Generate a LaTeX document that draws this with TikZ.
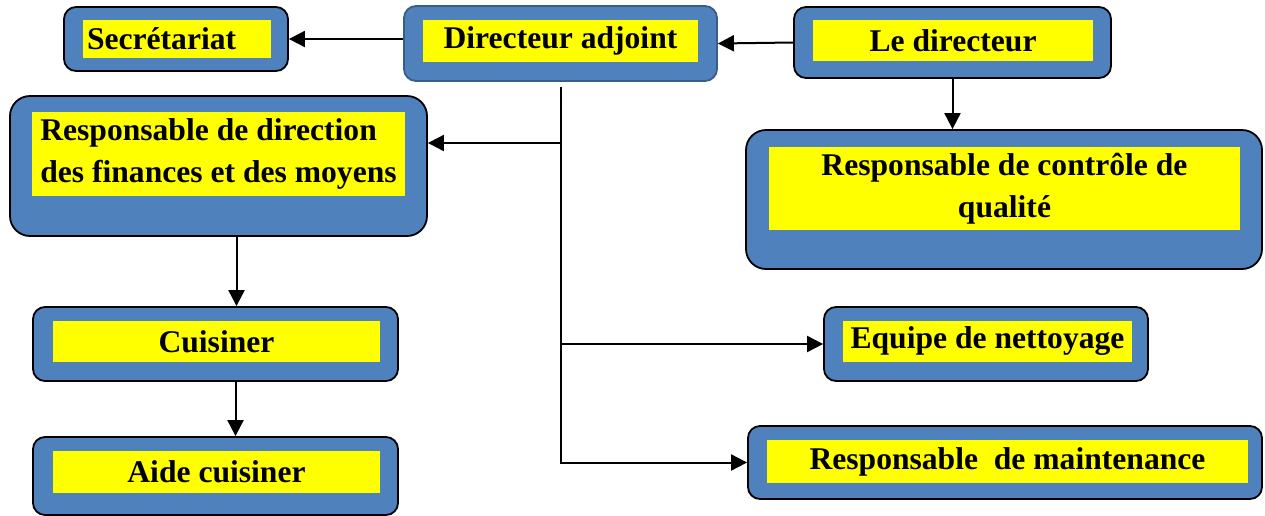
\documentclass[tikz,border=0pt]{standalone}
\usepackage{fontspec}
\setmainfont{Liberation Serif}
\usetikzlibrary{arrows.meta}
\definecolor{boxblue}{HTML}{4F81BD}
\definecolor{adjborder}{HTML}{385D8A}
\definecolor{labelyellow}{RGB}{255,255,0}

\begin{document}
\begin{tikzpicture}[x = 1pt, y = -1pt]
\tikzstyle{BoxStyle}=[shape = rectangle,
                      rounded corners = 6pt,
                      fill = boxblue,
                      draw = black,
                      line width = 0.9pt,
                      inner sep = 0pt]
\tikzstyle{LabelStyle}=[shape = rectangle,
                        fill = labelyellow,
                        inner xsep = 2pt,
                        inner ysep = 0pt,
                        align = center,
                        font = \fontsize{15.8}{21}\selectfont\bfseries]
\tikzstyle{LinkStyle}=[draw, line width = 1pt, -{Triangle[length = 8pt, width = 8pt]}]

\useasboundingbox (0, 0) rectangle (632.5, 257.5);

\node[BoxStyle, minimum width = 112pt, minimum height = 32pt] (sec) at (88, 19.5) {};
\node[LabelStyle, text width = 90pt, minimum height = 19pt, align = left] (secL) at (88.5, 19.5) {Secrétariat};

\node[BoxStyle, draw = adjborder, minimum width = 156.5pt, minimum height = 37.5pt] (adj) at (280.25, 21.75) {};
\node[LabelStyle, minimum width = 137.5pt, minimum height = 21pt] (adjL) at (280.25, 20.5) {Directeur adjoint};

\node[BoxStyle, minimum width = 158.5pt, minimum height = 35.5pt] (dir) at (476.25, 21.25) {};
\node[LabelStyle, minimum width = 140pt, minimum height = 20.5pt] (dirL) at (476.5, 20.25) {Le directeur};

\node[BoxStyle, rounded corners = 10pt, minimum width = 208.5pt, minimum height = 70pt] (fin) at (109.25, 83) {};
\node[LabelStyle, minimum width = 186.5pt, minimum height = 42pt, align = left] (finL) at (109.25, 77)
  {Responsable de direction\\des finances et des moyens};

\node[BoxStyle, rounded corners = 10pt, minimum width = 258pt, minimum height = 69.5pt] (qual) at (502, 99.75) {};
\node[LabelStyle, minimum width = 235.5pt, minimum height = 41.5pt] (qualL) at (502.25, 94.25)
  {Responsable de contrôle de\\qualité};

\node[BoxStyle, minimum width = 182.5pt, minimum height = 37pt] (cui) at (107.75, 172) {};
\node[LabelStyle, minimum width = 163.5pt, minimum height = 20.5pt] (cuiL) at (108.25, 170.75) {Cuisiner};

\node[BoxStyle, minimum width = 182.5pt, minimum height = 39pt] (aide) at (107.75, 238) {};
\node[LabelStyle, minimum width = 163.5pt, minimum height = 21pt] (aideL) at (108.25, 236) {Aide cuisiner};

\node[BoxStyle, minimum width = 162pt, minimum height = 37pt] (net) at (493, 172) {};
\node[LabelStyle, minimum width = 144.5pt, minimum height = 20.5pt] (netL) at (493.75, 170.75) {Equipe de nettoyage};

\node[BoxStyle, minimum width = 257pt, minimum height = 36.5pt] (maint) at (502.5, 231.25) {};
\node[LabelStyle, minimum width = 240.5pt, minimum height = 21.5pt] (maintL) at (503.75, 230.75) {Responsable~ de maintenance};

\coordinate (trunk) at ([yshift = -2.5pt]adj.south);
\coordinate (finlink) at (280, 71.5);

\draw[LinkStyle] (adj.west |- sec.east) -- (sec.east);
\draw[LinkStyle] (dir.west) -- (adj.east);
\draw[LinkStyle] (dir.south) -- (dir.south |- qual.north);
\draw[LinkStyle] (trunk) -- (trunk |- maint.west) -- (maint.west);
\draw[LinkStyle] (trunk |- net.west) -- (net.west);
\draw[LinkStyle] (finlink) -- (finlink -| fin.east);
\draw[LinkStyle] ([xshift = 9pt]fin.south) -- ([xshift = 9pt]fin.south |- cui.north);
\draw[LinkStyle] ([xshift = 10pt]cui.south) -- ([xshift = 10pt]cui.south |- aide.north);
\end{tikzpicture}
\end{document}
